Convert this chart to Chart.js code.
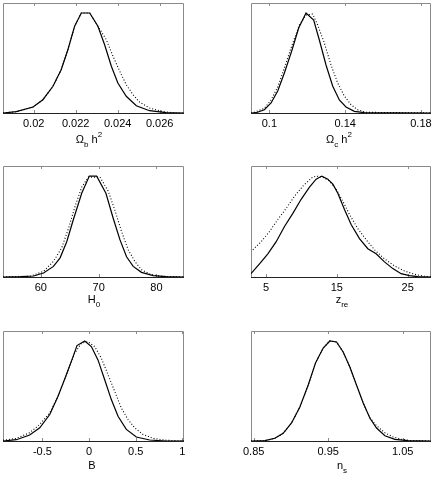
<!DOCTYPE html>
<html>
<head>
<meta charset="utf-8">
<script src="https://cdn.jsdelivr.net/npm/chart.js@4"></script>
<style>
  body { margin: 0; background: #fff; width: 436px; height: 478px; position: relative; overflow: hidden;
         font-family: "Liberation Sans", Arial, sans-serif; }
  canvas.panel { position: absolute; }
  .xlabel { position: absolute; width: 120px; text-align: center; font-size: 11px; line-height: 11px;
            white-space: nowrap; color: #000; }
  .xlabel sub, .xlabel sup { vertical-align: baseline; position: relative; font-size: 8px; line-height: 0; }
  .xlabel sub { top: 4px; }
  .xlabel sup { top: -6px; }
</style>
</head>
<body>
<script>
// x range of each panel
const OMB_RANGE = [0.01854, 0.02716];
const OMC_RANGE = [0.0903, 0.1853];
const H0_RANGE = [53.45, 84.77];
const ZRE_RANGE = [2.88, 28.3];
const B_RANGE = [-0.922, 1.018];
const NS_RANGE = [0.8464, 1.088];

// tick values + labels
const OMB_TICKS = [0.02, 0.022, 0.024, 0.026];
const OMB_TICK_LABELS = ["0.02", "0.022", "0.024", "0.026"];
const OMC_TICKS = [0.1, 0.14, 0.18];
const OMC_TICK_LABELS = ["0.1", "0.14", "0.18"];
const H0_TICKS = [60, 70, 80];
const H0_TICK_LABELS = ["60", "70", "80"];
const ZRE_TICKS = [5, 15, 25];
const ZRE_TICK_LABELS = ["5", "15", "25"];
const B_TICKS = [-0.5, 0, 0.5, 1];
const B_TICK_LABELS = ["-0.5", "0", "0.5", "1"];
const NS_TICKS = [0.85, 0.95, 1.05];
const NS_TICK_LABELS = ["0.85", "0.95", "1.05"];

// likelihood curves [x, relative likelihood], solid and dotted
const OMB_SOLID = [
  [0.01854, 0], [0.01917, 0.013], [0.01997, 0.06], [0.02044, 0.133], [0.02092, 0.267],
  [0.02131, 0.433], [0.02163, 0.633], [0.02195, 0.867], [0.02227, 1.0], [0.02267, 1.0],
  [0.02306, 0.867], [0.02338, 0.683], [0.0237, 0.467], [0.02401, 0.30], [0.02441, 0.167],
  [0.02489, 0.073], [0.02552, 0.023], [0.02631, 0.003], [0.02716, 0],
];
const OMB_DOTTED = [
  [0.01854, 0], [0.01917, 0.013], [0.01997, 0.06], [0.02044, 0.133], [0.02092, 0.267],
  [0.02131, 0.433], [0.02163, 0.633], [0.02195, 0.867], [0.02227, 1.0], [0.02267, 1.0],
  [0.02306, 0.867], [0.02346, 0.733], [0.02378, 0.567], [0.0241, 0.417], [0.02441, 0.283],
  [0.02473, 0.183], [0.02505, 0.107], [0.02552, 0.05], [0.02616, 0.013], [0.02679, 0],
  [0.02716, 0],
];

const OMC_SOLID = [
  [0.0903, 0], [0.09297, 0.003], [0.09736, 0.033], [0.10088, 0.10], [0.1044, 0.22],
  [0.10791, 0.40], [0.11178, 0.62], [0.11547, 0.85], [0.11934, 1.0], [0.12338, 0.93],
  [0.12637, 0.73], [0.12989, 0.48], [0.1334, 0.27], [0.13692, 0.13], [0.14044, 0.06],
  [0.14484, 0.017], [0.15011, 0.003], [0.1853, 0],
];
const OMC_DOTTED = [
  [0.0903, 0], [0.0921, 0.007], [0.09736, 0.047], [0.10088, 0.13], [0.1044, 0.26],
  [0.10791, 0.45], [0.11178, 0.67], [0.11582, 0.88], [0.11934, 0.98], [0.12286, 0.99],
  [0.1255, 0.88], [0.12901, 0.70], [0.13253, 0.48], [0.13604, 0.30], [0.13956, 0.17],
  [0.14308, 0.083], [0.14659, 0.033], [0.15099, 0.007], [0.1853, 0],
];

const H0_SOLID = [
  [53.45, 0], [56.44, 0.003], [58.74, 0.01], [60.46, 0.04], [62.18, 0.105],
  [63.33, 0.19], [64.48, 0.35], [65.63, 0.57], [67.07, 0.83], [68.39, 1.0],
  [69.66, 1.0], [71.26, 0.83], [72.53, 0.58], [73.68, 0.37], [74.83, 0.20],
  [75.98, 0.105], [77.41, 0.046], [79.43, 0.013], [81.72, 0.003], [84.77, 0],
];
const H0_DOTTED = [
  [53.45, 0], [58.16, 0.007], [60.46, 0.056], [62.18, 0.155], [63.62, 0.29],
  [64.77, 0.48], [65.92, 0.70], [67.07, 0.89], [68.22, 0.99], [70.23, 0.99],
  [71.67, 0.85], [72.82, 0.66], [73.97, 0.45], [75.11, 0.27], [76.26, 0.155],
  [77.41, 0.072], [78.85, 0.03], [80.57, 0.007], [84.77, 0],
];

const ZRE_SOLID = [
  [2.88, 0.033], [4.08, 0.13], [5.26, 0.23], [6.44, 0.35], [7.61, 0.50],
  [8.79, 0.63], [9.96, 0.77], [11.14, 0.89], [12.08, 0.97], [12.88, 1.0],
  [13.73, 0.97], [14.44, 0.92], [15.14, 0.83], [16.08, 0.67], [17.02, 0.52],
  [18.2, 0.38], [19.38, 0.28], [20.55, 0.23], [21.73, 0.15], [22.91, 0.083],
  [24.08, 0.033], [25.26, 0.013], [26.44, 0.003], [28.3, 0],
];
const ZRE_DOTTED = [
  [3.14, 0.27], [4.32, 0.35], [5.49, 0.45], [6.67, 0.57], [7.85, 0.68],
  [9.02, 0.80], [10.2, 0.90], [11.38, 0.98], [12.08, 1.0], [13.02, 0.99],
  [13.96, 0.95], [14.91, 0.87], [15.85, 0.75], [16.79, 0.62], [17.96, 0.48],
  [19.14, 0.37], [20.32, 0.27], [21.73, 0.18], [23.14, 0.11], [24.55, 0.06],
  [25.96, 0.027], [27.38, 0.007], [28.3, 0.003],
];

const B_SOLID = [
  [-0.922, 0], [-0.779, 0.013], [-0.636, 0.06], [-0.528, 0.132], [-0.421, 0.265],
  [-0.332, 0.447], [-0.243, 0.662], [-0.171, 0.844], [-0.129, 0.954], [-0.046, 1.0],
  [0.025, 0.944], [0.096, 0.811], [0.168, 0.613], [0.239, 0.414], [0.311, 0.248],
  [0.4, 0.116], [0.507, 0.04], [0.65, 0.01], [0.829, 0], [1.018, 0],
];
const B_DOTTED = [
  [-0.922, 0.007], [-0.779, 0.026], [-0.636, 0.083], [-0.528, 0.166], [-0.421, 0.281],
  [-0.332, 0.447], [-0.243, 0.662], [-0.154, 0.877], [-0.082, 0.977], [-0.011, 0.993],
  [0.061, 0.944], [0.132, 0.828], [0.204, 0.662], [0.275, 0.497], [0.346, 0.331],
  [0.418, 0.215], [0.489, 0.132], [0.579, 0.066], [0.686, 0.026], [0.829, 0.007],
  [1.018, 0],
];

const NS_SOLID = [
  [0.8464, 0], [0.865, 0.003], [0.8784, 0.027], [0.8896, 0.077], [0.9008, 0.18],
  [0.912, 0.34], [0.9232, 0.56], [0.933, 0.78], [0.9433, 0.93], [0.9522, 1.0],
  [0.9612, 0.99], [0.9701, 0.89], [0.9791, 0.74], [0.988, 0.56], [0.997, 0.38],
  [1.0059, 0.23], [1.0149, 0.13], [1.0261, 0.053], [1.0395, 0.017], [1.0574, 0.003],
  [1.088, 0],
];
const NS_DOTTED = [
  [0.8464, 0], [0.865, 0.003], [0.8784, 0.027], [0.8896, 0.077], [0.9008, 0.18],
  [0.912, 0.34], [0.9232, 0.56], [0.933, 0.78], [0.9433, 0.93], [0.9522, 1.0],
  [0.9612, 0.99], [0.9701, 0.89], [0.9791, 0.74], [0.988, 0.56], [0.997, 0.38],
  [1.0059, 0.233], [1.0149, 0.153], [1.0261, 0.083], [1.0372, 0.04], [1.0484, 0.017],
  [1.0619, 0.003], [1.088, 0],
];

const Y_MAX = 1.1;

// draws the axes box and MATLAB-style inward ticks
const boxPlugin = {
  id: "box",
  beforeDatasetsDraw(chart) {
    const { ctx, chartArea: a, scales } = chart;
    ctx.save();
    ctx.lineWidth = 1;
    ctx.strokeStyle = "#8a8a8a";
    ctx.beginPath();
    ctx.moveTo(a.left + 0.5, a.bottom + 0.5);
    ctx.lineTo(a.left + 0.5, a.top + 0.5);
    ctx.lineTo(a.right - 0.5, a.top + 0.5);
    ctx.lineTo(a.right - 0.5, a.bottom + 0.5);
    ctx.stroke();
    scales.x.ticks.forEach((t) => {
      const px = Math.round(scales.x.getPixelForValue(t.value)) + 0.5;
      ctx.beginPath();
      ctx.moveTo(px, a.top);
      ctx.lineTo(px, a.top + 3);
      ctx.moveTo(px, a.bottom);
      ctx.lineTo(px, a.bottom - 3);
      ctx.stroke();
    });
    ctx.strokeStyle = "#222";
    ctx.beginPath();
    ctx.moveTo(a.left, a.bottom + 0.5);
    ctx.lineTo(a.right, a.bottom + 0.5);
    ctx.stroke();
    ctx.restore();
  },
};

function makePanel(p) {
  const colX = p.left < 218 ? 0 : 218;
  const axisH = 32;
  const padTop = 4;
  const width = 218;
  const height = p.bottom - p.top + padTop + axisH;

  const canvas = document.createElement("canvas");
  canvas.className = "panel";
  canvas.width = width;
  canvas.height = height;
  canvas.style.left = colX + "px";
  canvas.style.top = p.top - padTop + "px";
  document.body.appendChild(canvas);

  new Chart(canvas.getContext("2d"), {
    type: "line",
    data: {
      datasets: [
        { data: p.solid, borderColor: "#000", borderWidth: 1.2 },
        { data: p.dotted, borderColor: "#000", borderWidth: 1.1, borderDash: [1, 2] },
      ],
    },
    options: {
      responsive: false,
      animation: false,
      events: [],
      layout: { padding: { left: p.left - colX, right: colX + width - p.right, top: padTop, bottom: 0 } },
      elements: { point: { radius: 0 }, line: { tension: 0, fill: false } },
      plugins: { legend: { display: false }, tooltip: { enabled: false } },
      scales: {
        x: {
          type: "linear",
          min: p.range[0],
          max: p.range[1],
          grid: { display: false, drawTicks: false },
          border: { display: false },
          afterBuildTicks: (s) => { s.ticks = p.ticks.map((v) => ({ value: v })); },
          afterFit: (s) => { s.height = axisH; },
          ticks: {
            autoSkip: false,
            maxRotation: 0,
            padding: 4,
            color: "#000",
            font: { family: "'Liberation Sans', Arial, sans-serif", size: 11 },
            callback: (v, i) => p.tickLabels[i],
          },
        },
        y: { display: false, min: 0, max: Y_MAX },
      },
    },
    plugins: [boxPlugin],
  });

  const lab = document.createElement("div");
  lab.className = "xlabel";
  lab.innerHTML = p.label;
  lab.style.left = p.labelX - 60 + "px";
  lab.style.top = p.bottom + p.labelDy - 9 + "px";
  document.body.appendChild(lab);
}

makePanel({ left: 3, top: 3, right: 184, bottom: 113, range: OMB_RANGE, ticks: OMB_TICKS,
  tickLabels: OMB_TICK_LABELS, solid: OMB_SOLID, dotted: OMB_DOTTED,
  label: "&Omega;<sub>b</sub> h<sup>2</sup>", labelX: 89, labelDy: 30 });
makePanel({ left: 251, top: 3, right: 431, bottom: 113, range: OMC_RANGE, ticks: OMC_TICKS,
  tickLabels: OMC_TICK_LABELS, solid: OMC_SOLID, dotted: OMC_DOTTED,
  label: "&Omega;<sub>c</sub> h<sup>2</sup>", labelX: 339, labelDy: 30 });
makePanel({ left: 3, top: 166, right: 184, bottom: 277, range: H0_RANGE, ticks: H0_TICKS,
  tickLabels: H0_TICK_LABELS, solid: H0_SOLID, dotted: H0_DOTTED,
  label: "H<sub>0</sub>", labelX: 94, labelDy: 26 });
makePanel({ left: 251, top: 166, right: 431, bottom: 277, range: ZRE_RANGE, ticks: ZRE_TICKS,
  tickLabels: ZRE_TICK_LABELS, solid: ZRE_SOLID, dotted: ZRE_DOTTED,
  label: "z<sub>re</sub>", labelX: 342, labelDy: 26 });
makePanel({ left: 3, top: 331, right: 184, bottom: 441, range: B_RANGE, ticks: B_TICKS,
  tickLabels: B_TICK_LABELS, solid: B_SOLID, dotted: B_DOTTED,
  label: "B", labelX: 92, labelDy: 28 });
makePanel({ left: 251, top: 331, right: 431, bottom: 441, range: NS_RANGE, ticks: NS_TICKS,
  tickLabels: NS_TICK_LABELS, solid: NS_SOLID, dotted: NS_DOTTED,
  label: "n<sub>s</sub>", labelX: 342, labelDy: 28 });
</script>
</body>
</html>
